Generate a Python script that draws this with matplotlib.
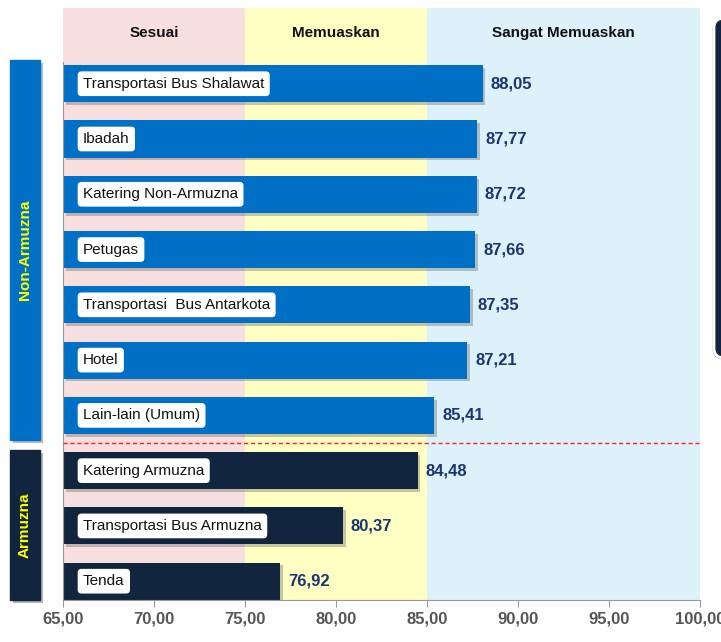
import matplotlib.pyplot as plt
import matplotlib.patheffects as pe
from matplotlib.patches import FancyBboxPatch, Rectangle

plt.rcParams['font.family'] = ['Liberation Sans', 'DejaVu Sans']

categories = ["Transportasi Bus Shalawat", "Ibadah", "Katering Non-Armuzna",
              "Petugas", "Transportasi  Bus Antarkota", "Hotel", "Lain-lain (Umum)",
              "Katering Armuzna", "Transportasi Bus Armuzna", "Tenda"]
values = [88.05, 87.77, 87.72, 87.66, 87.35, 87.21, 85.41, 84.48, 80.37, 76.92]
groups = ["Non-Armuzna"] * 7 + ["Armuzna"] * 3
band_edges = [65, 75, 85, 100]
band_names = ["Sesuai", "Memuaskan", "Sangat Memuaskan"]
ticks = [65, 70, 75, 80, 85, 90, 95, 100]

band_colors = ["#F8DFDF", "#FFFFC4", "#DDF1FA"]
group_colors = {"Non-Armuzna": "#0070C6", "Armuzna": "#12253F"}

fig = plt.figure(figsize=(7.21, 6.42), dpi=100)
ax = fig.add_axes([63 / 721, 42 / 642, 637 / 721, 592 / 642])

# background bands
for i, name in enumerate(band_names):
    ax.axvspan(band_edges[i], band_edges[i + 1], color=band_colors[i], zorder=0)
    ax.text((band_edges[i] + band_edges[i + 1]) / 2, -0.92, name, ha="center",
            va="center", fontsize=11, fontweight="bold", color="#111111")

y = list(range(len(categories)))
colors = [group_colors[g] for g in groups]
bars = ax.barh(y, [v - 65 for v in values], left=65, height=0.67, color=colors, zorder=2)
for b in bars:
    b.set_path_effects([pe.SimplePatchShadow(offset=(2, -2), alpha=0.3, shadow_rgbFace="#444444"),
                        pe.Normal()])

for yi, cat, v in zip(y, categories, values):
    ax.text(66.1, yi, cat, ha="left", va="center", fontsize=11, color="#111111", zorder=4,
            bbox=dict(boxstyle="round,pad=0.35,rounding_size=0.25", fc="white", ec="none"))
    ax.text(v + 0.45, yi, f"{v:.2f}".replace(".", ","), ha="left", va="center",
            fontsize=12, fontweight="bold", color="#1B3570", zorder=4)

ax.axhline(6.5, color="#FF2020", linestyle=(0, (3, 2)), linewidth=1.0, zorder=3)

ax.set_xlim(65, 100)
ax.set_ylim(9.34, -1.37)
ax.set_xticks(ticks)
ax.set_xticklabels([f"{t:.2f}".replace(".", ",") for t in ticks], fontsize=12,
                   fontweight="bold", color="#555555")
ax.set_yticks([])
ax.tick_params(axis="x", length=5, color="#999999")
for s in ["top", "right"]:
    ax.spines[s].set_visible(False)
ax.spines["left"].set_color("#999999")
ax.spines["bottom"].set_color("#999999")
ax.spines["left"].set_bounds(9.34, -0.4)

# group side labels
for (y0, y1, name) in [(60, 440, "Non-Armuzna"), (450, 600, "Armuzna")]:
    fig.patches.append(Rectangle((10 / 721, 1 - y1 / 642), 30 / 721, (y1 - y0) / 642,
                                 transform=fig.transFigure, color=group_colors[name],
                                 path_effects=[pe.SimplePatchShadow(offset=(2, -2), alpha=0.3),
                                               pe.Normal()]))
    fig.text(25 / 721, 1 - (y0 + y1) / 2 / 642, name, rotation=90, ha="center", va="center",
             fontsize=11, fontweight="bold", color="#FFFF00")

# partially visible panel on the right
fig.patches.append(FancyBboxPatch((714 / 721, 1 - 358 / 642), 40 / 721, 340 / 642,
                                  boxstyle="round,pad=0,rounding_size=0.015",
                                  transform=fig.transFigure, fc="#12253F", ec="white", lw=2,
                                  path_effects=[pe.SimplePatchShadow(offset=(-1, -1), alpha=0.3),
                                                pe.Normal()]))

fig.savefig("out.png", dpi=100)
